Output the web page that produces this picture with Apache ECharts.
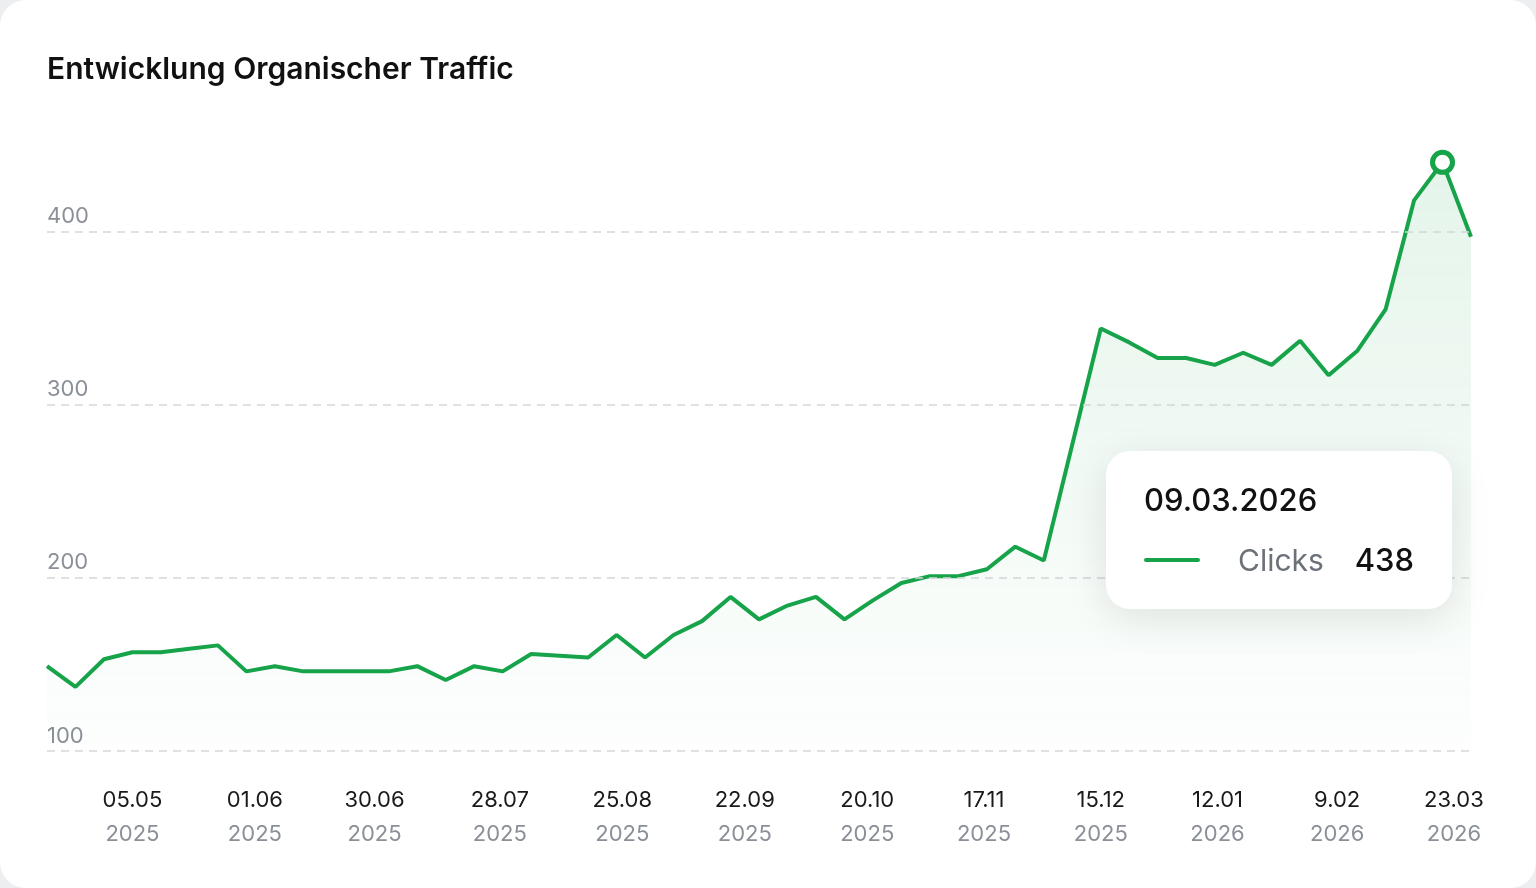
<!DOCTYPE html>
<html>
<head>
<meta charset="utf-8">
<script src="https://cdn.jsdelivr.net/npm/echarts@6/dist/echarts.min.js"></script>
<style>
  html, body { margin: 0; padding: 0; background: #eceef0; }
  #card { position: absolute; left: 0; top: 0; width: 1536px; height: 888px; background: #fff; border-radius: 26px; }
  #chart { width: 1536px; height: 888px; }
</style>
</head>
<body>
<div id="card"><div id="chart"></div></div>
<script>
// weekly clicks
const clicks = [149, 137, 153, 157, 157, 159, 161, 146, 149, 146, 146, 146, 146, 149, 141, 149, 146, 156, 155, 154,
  167, 154, 167, 175, 189, 176, 184, 189, 176, 187, 197, 201, 201, 205, 218, 210, 277, 344, 336, 327,
  327, 323, 330, 323, 337, 317, 331, 355, 418, 440, 397];
const tickPos = [3, 7.3, 11.5, 15.9, 20.2, 24.5, 28.8, 32.9, 37, 41.1, 45.3, 49.4];
const tickDates = ['05.05', '01.06', '30.06', '28.07', '25.08', '22.09', '20.10', '17.11', '15.12', '12.01', '9.02', '23.03'];
const tickYears = ['2025', '2025', '2025', '2025', '2025', '2025', '2025', '2025', '2025', '2026', '2026', '2026'];
const gridLines = [100, 200, 300, 400];
const peakIndex = 49;
const peakDate = '09.03.2026';
const peakShown = 438;

const font = 'Inter, "Noto Sans", sans-serif';
const green = '#16a34a';
const chart = echarts.init(document.getElementById('chart'));

chart.setOption({
    animation: false,
    title: {
        text: 'Entwicklung Organischer Traffic',
        left: 42, top: 50,
        textStyle: { fontFamily: font, fontSize: 30, fontWeight: 600, color: '#111' }
    },
    grid: { left: 47, right: 65, top: 145, bottom: 137 },
    xAxis: {
        type: 'value', min: 0, max: clicks.length - 1,
        splitLine: { show: false }, axisLine: { show: false }, axisTick: { show: false },
        axisLabel: {
            customValues: tickPos,
            margin: 32,
            formatter: v => {
                const i = tickPos.indexOf(v);
                return i < 0 ? '' : '{d|' + tickDates[i] + '}\n{y|' + tickYears[i] + '}';
            },
            rich: {
                d: { fontFamily: font, fontSize: 22, color: '#1a1a1a', lineHeight: 34 },
                y: { fontFamily: font, fontSize: 22, color: '#8a8f98', lineHeight: 34 }
            }
        }
    },
    yAxis: {
        type: 'value', min: 100, max: 450, interval: 100,
        splitLine: { show: false }, axisLine: { show: false }, axisTick: { show: false },
        axisLabel: {
            inside: true, align: 'left', verticalAlign: 'bottom', margin: 0, showMaxLabel: false,
            padding: [0, 0, 4, 0],
            fontFamily: font, fontSize: 22, color: '#8a8f98'
        }
    },
    tooltip: {
        show: true, trigger: 'item', alwaysShowContent: true, triggerOn: 'none',
        position: () => [1106, 451],
        backgroundColor: '#fff', borderWidth: 0, borderRadius: 24, padding: 0,
        extraCssText: 'box-shadow: 0 10px 40px rgba(0,0,0,0.10);',
        formatter: () =>
            '<div style="width:346px;height:158px;box-sizing:border-box;padding:29px 38px;font-family:Inter,sans-serif">' +
            '<div style="font-size:31px;color:#111;line-height:40px;font-weight:500">' + peakDate + '</div>' +
            '<div style="display:flex;align-items:center;margin-top:20px;line-height:40px">' +
            '<span style="display:inline-block;width:56px;height:4px;background:' + green + ';border-radius:2px"></span>' +
            '<span style="font-size:30px;color:#6b7079;margin-left:38px">Clicks</span>' +
            '<span style="font-size:31px;color:#111;margin-left:auto;font-weight:500">' + peakShown + '</span>' +
            '</div></div>'
    },
    series: [{
        type: 'line',
        data: clicks.map((v, i) => [i, v]),
        showSymbol: false,
        lineStyle: { color: green, width: 4 },
        areaStyle: {
            color: new echarts.graphic.LinearGradient(0, 0, 0, 1, [
                { offset: 0, color: 'rgba(22,163,74,0.16)' },
                { offset: 1, color: 'rgba(22,163,74,0.01)' }
            ])
        },
        markLine: {
            silent: true, symbol: 'none', label: { show: false },
            lineStyle: { color: '#d4d6da', type: [8, 6], width: 1.5 },
            data: gridLines.map(v => ({ yAxis: v }))
        },
        z: 2
    }, {
        type: 'scatter',
        data: [[peakIndex, clicks[peakIndex]]],
        symbolSize: 20,
        itemStyle: { color: '#fff', borderColor: green, borderWidth: 5, opacity: 1 },
        emphasis: { disabled: true },
        z: 5
    }]
});
chart.dispatchAction({ type: 'showTip', seriesIndex: 1, dataIndex: 0 });
</script>
</body>
</html>
